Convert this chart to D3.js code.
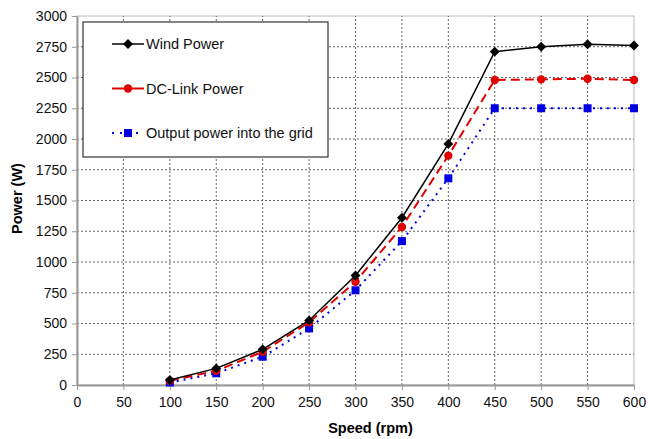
<!DOCTYPE html>
<html>
<head>
<meta charset="utf-8">
<script src="https://cdn.jsdelivr.net/npm/d3@7"></script>
<style>
  body { margin: 0; background: #fff; }
  svg { display: block; font-family: "Liberation Sans", Arial, sans-serif; }
</style>
</head>
<body>
<div id="chart"></div>
<script>
// data
var speed = [100, 150, 200, 250, 300, 350, 400, 450, 500, 550, 600];
var windPower = [40, 135, 290, 525, 890, 1360, 1960, 2710, 2750, 2770, 2760];
var dcLinkPower = [35, 115, 270, 510, 840, 1285, 1865, 2480, 2485, 2490, 2480];
var gridPower = [20, 95, 230, 460, 770, 1170, 1680, 2250, 2250, 2250, 2250];
var seriesNames = ['Wind Power', 'DC-Link Power', 'Output power into the grid'];
var xTicks = d3.range(0, 601, 50);
var yTicks = d3.range(0, 3001, 250);

var W = 648, H = 439;
var m = {left: 77, right: 14, top: 16, bottom: 54};

var svg = d3.select('#chart').append('svg')
    .attr('width', W).attr('height', H);

var x = d3.scaleLinear().domain([0, 600]).range([m.left, W - m.right]);
var y = d3.scaleLinear().domain([0, 3000]).range([H - m.bottom, m.top]);

// plot frame
svg.append('rect')
    .attr('x', x(0)).attr('y', y(3000))
    .attr('width', x(600) - x(0)).attr('height', y(0) - y(3000))
    .style('fill', 'none').style('stroke', '#bbb').style('stroke-width', 1);

// grid
svg.append('g').selectAll('line.gx')
    .data(xTicks.filter(function(d){ return d > 0 && d < 600; }))
    .enter().append('line')
    .attr('x1', function(d){ return x(d); }).attr('x2', function(d){ return x(d); })
    .attr('y1', y(0)).attr('y2', y(3000))
    .style('stroke', '#666').style('stroke-width', 1).style('stroke-dasharray', '2,2');
svg.append('g').selectAll('line.gy')
    .data(yTicks.filter(function(d){ return d > 0 && d < 3000; }))
    .enter().append('line')
    .attr('x1', x(0)).attr('x2', x(600))
    .attr('y1', function(d){ return y(d); }).attr('y2', function(d){ return y(d); })
    .style('stroke', '#666').style('stroke-width', 1).style('stroke-dasharray', '2,2');

// axes
var xAxis = svg.append('g')
    .attr('transform', 'translate(0,' + y(0) + ')')
    .call(d3.axisBottom(x).tickValues(xTicks).tickFormat(d3.format('d'))
        .tickSize(5).tickSizeOuter(0).tickPadding(7));
var yAxis = svg.append('g')
    .attr('transform', 'translate(' + x(0) + ',0)')
    .call(d3.axisLeft(y).tickValues(yTicks).tickFormat(d3.format('d'))
        .tickSize(5).tickSizeOuter(0).tickPadding(5));
[xAxis, yAxis].forEach(function(a){
    a.select('.domain').style('stroke', '#999').style('stroke-width', 2);
    a.selectAll('.tick line').style('stroke', '#999');
    a.selectAll('.tick text').style('font-size', '14px').style('fill', '#111')
        .style('font-family', '"Liberation Sans", Arial, sans-serif');
});

svg.append('text')
    .attr('x', (x(0) + x(600)) / 2 + 15).attr('y', 433)
    .attr('text-anchor', 'middle')
    .style('font-size', '14.5px').style('font-weight', 'bold')
    .text('Speed (rpm)');
svg.append('text')
    .attr('transform', 'translate(22,' + (y(1500) - 2) + ') rotate(-90)')
    .attr('text-anchor', 'middle')
    .style('font-size', '14.5px').style('font-weight', 'bold')
    .text('Power (W)');

var series = [
    {values: windPower, color: '#000', dash: null, width: 1.5, marker: 'diamond'},
    {values: dcLinkPower, color: '#e00000', dash: '9,5', width: 2, marker: 'circle'},
    {values: gridPower, color: '#0000e0', dash: '2,5', width: 2, marker: 'square'}
];

var line = d3.line()
    .x(function(d){ return x(d[0]); })
    .y(function(d){ return y(d[1]); });

function drawMarker(g, type, color) {
    if (type == 'diamond') {
        g.append('rect').attr('x', -3.5).attr('y', -3.5).attr('width', 7).attr('height', 7)
            .attr('transform', 'rotate(45)').style('fill', color);
    } else if (type == 'circle') {
        g.append('circle').attr('r', 4.2).style('fill', color);
    } else {
        g.append('rect').attr('x', -4).attr('y', -4).attr('width', 8).attr('height', 8)
            .style('fill', color);
    }
}

// draw back to front: grid output first, wind on top
series.slice().reverse().forEach(function(s){
    var pts = speed.map(function(v, i){ return [v, s.values[i]]; });
    svg.append('path').datum(pts)
        .attr('d', line)
        .style('fill', 'none').style('stroke', s.color)
        .style('stroke-width', s.width)
        .style('stroke-dasharray', s.dash);
    pts.forEach(function(p){
        var g = svg.append('g').attr('transform', 'translate(' + x(p[0]) + ',' + y(p[1]) + ')');
        drawMarker(g, s.marker, s.color);
    });
});

// legend
var lg = svg.append('g');
lg.append('rect')
    .attr('x', 83).attr('y', 22).attr('width', 245).attr('height', 135)
    .style('fill', '#fff').style('stroke', '#333').style('stroke-width', 1.2);
series.forEach(function(s, i){
    var ly = 44 + i * 44.5;
    lg.append('line')
        .attr('x1', 112).attr('x2', 144).attr('y1', ly).attr('y2', ly)
        .style('stroke', s.color).style('stroke-width', s.width)
        .style('stroke-dasharray', i == 2 ? '2,6' : null);
    var g = lg.append('g').attr('transform', 'translate(128,' + ly + ')');
    drawMarker(g, s.marker, s.color);
    lg.append('text')
        .attr('x', 146).attr('y', ly + 5)
        .style('font-size', '14.5px').style('fill', '#111')
        .text(seriesNames[i]);
});
</script>
</body>
</html>
